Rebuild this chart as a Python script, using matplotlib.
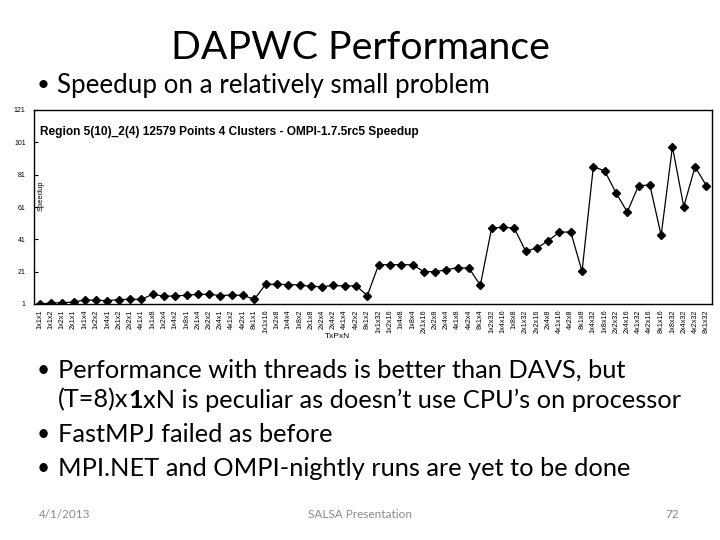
import matplotlib
matplotlib.use('Agg')
import matplotlib.pyplot as plt

# TxPxN configurations (threads x processes x nodes)
configs = ['1x1x1', '1x1x2', '1x2x1', '2x1x1', '1x1x4', '1x2x2', '1x4x1', '2x1x2', '2x2x1', '4x1x1',
           '1x1x8', '1x2x4', '1x4x2', '1x8x1', '2x1x4', '2x2x2', '2x4x1', '4x1x2', '4x2x1', '8x1x1',
           '1x1x16', '1x2x8', '1x4x4', '1x8x2', '2x1x8', '2x2x4', '2x4x2', '4x1x4', '4x2x2', '8x1x2',
           '1x1x32', '1x2x16', '1x4x8', '1x8x4', '2x1x16', '2x2x8', '2x4x4', '4x1x8', '4x2x4', '8x1x4',
           '1x2x32', '1x4x16', '1x8x8', '2x1x32', '2x2x16', '2x4x8', '4x1x16', '4x2x8', '8x1x8', '1x4x32',
           '1x8x16', '2x2x32', '2x4x16', '4x1x32', '4x2x16', '8x1x16', '1x8x32', '2x4x32', '4x2x32', '8x1x32']

speedup = [1.0, 1.6, 1.8, 2.2, 3.5, 3.3, 3.1, 3.7, 3.9, 3.9,
           7.0, 5.8, 6.0, 6.4, 7.0, 7.0, 6.2, 6.6, 6.3, 3.9,
           13.2, 13.2, 13.0, 12.8, 11.9, 11.7, 12.5, 12.1, 12.3, 6.2,
           25.3, 25.3, 25.3, 25.3, 21.0, 21.0, 22.2, 23.5, 23.1, 12.6,
           48.0, 48.4, 48.0, 33.8, 35.6, 40.1, 45.5, 45.5, 21.2, 85.9,
           83.4, 69.8, 57.9, 74.2, 74.6, 43.5, 98.3, 61.2, 85.9, 74.2]

y_ticks = [1, 21, 41, 61, 81, 101, 121]

W, H = 720, 540
SLIDE_FONT = ['Lato', 'DejaVu Sans']
CHART_FONT = ['Liberation Sans Narrow', 'Liberation Sans', 'DejaVu Sans']


def px(x, y):
    # slide pixel coords -> figure fraction
    return x / W, 1 - y / H


fig = plt.figure(figsize=(7.2, 5.4), dpi=100)
fig.patch.set_facecolor('white')

# ---- chart ----
ax = fig.add_axes([34 / W, 1 - 304 / H, (712 - 34) / W, (304 - 110) / H])
x = list(range(len(configs)))
ax.plot(x, speedup, color='black', lw=0.9, marker='D', markersize=3.6,
        markerfacecolor='black', markeredgecolor='black')
ax.set_xlim(-0.5, len(configs) - 0.5)
ax.set_ylim(1, 121)
ax.set_yticks(y_ticks)
ax.set_yticklabels([str(v) for v in y_ticks], family=CHART_FONT, fontsize=5)
ax.set_xticks(x)
ax.set_xticklabels(configs, rotation=90, family=CHART_FONT, fontsize=5.2)
ax.tick_params(axis='y', direction='in', length=3, width=0.8, pad=6)
ax.tick_params(axis='x', length=0, pad=4)
for s in ax.spines.values():
    s.set_linewidth(1.0)
    s.set_color('black')

ax.text(0.009, 0.886, 'Region 5(10)_2(4) 12579 Points 4 Clusters - OMPI-1.7.5rc5 Speedup',
        transform=ax.transAxes, family=CHART_FONT, fontsize=8.6, fontweight='bold',
        ha='left', va='center')
ax.text(0.006, 0.56, 'Speedup', transform=ax.transAxes, rotation=90,
        family=CHART_FONT, fontsize=5.5, ha='left', va='center')
fig.text(*px(337, 337), 'TxPxN', family=CHART_FONT, fontsize=6, ha='center', va='center')

# ---- slide text ----
fig.text(*px(360, 48), 'DAPWC Performance', family=SLIDE_FONT, fontsize=28.3,
         ha='center', va='center')
fig.text(*px(37, 85), '•', family=SLIDE_FONT, fontsize=16, ha='left', va='center')
fig.text(*px(57, 85), 'Speedup on a relatively small problem', family=SLIDE_FONT,
         fontsize=18.7, ha='left', va='center')

body_size = 18.3
fig.text(*px(37, 370), '•', family=SLIDE_FONT, fontsize=body_size - 2, ha='left', va='center')
fig.text(*px(58, 370), 'Performance with threads is better than DAVS, but',
         family=SLIDE_FONT, fontsize=body_size, ha='left', va='center')

t1 = fig.text(*px(58, 400), '(T=8)x', family=SLIDE_FONT, fontsize=body_size,
              ha='left', va='center')
t2 = ax.annotate('1', xy=(1, 0), xycoords=t1, family=SLIDE_FONT, fontsize=body_size,
                 fontweight='bold', ha='left', va='bottom', annotation_clip=False)
ax.annotate('xN is peculiar as doesn’t use CPU’s on processor', xy=(1, 0), xycoords=t2,
            family=SLIDE_FONT, fontsize=body_size, ha='left', va='bottom',
            annotation_clip=False)

fig.text(*px(37, 434), '•', family=SLIDE_FONT, fontsize=body_size - 2, ha='left', va='center')
fig.text(*px(58, 434), 'FastMPJ failed as before', family=SLIDE_FONT,
         fontsize=body_size, ha='left', va='center')
fig.text(*px(37, 468), '•', family=SLIDE_FONT, fontsize=body_size - 2, ha='left', va='center')
fig.text(*px(58, 468), 'MPI.NET and OMPI-nightly runs are yet to be done', family=SLIDE_FONT,
         fontsize=body_size, ha='left', va='center')

# footer
grey = '#8a8a8a'
fig.text(*px(65, 514), '4/1/2013', family=SLIDE_FONT, fontsize=8.5, color=grey,
         ha='center', va='center')
fig.text(*px(360, 514), 'SALSA Presentation', family=SLIDE_FONT, fontsize=8.5, color=grey,
         ha='center', va='center')
fig.text(*px(672, 514), '72', family=SLIDE_FONT, fontsize=8.5, color=grey,
         ha='center', va='center')

fig.savefig('out.png', dpi=100)
